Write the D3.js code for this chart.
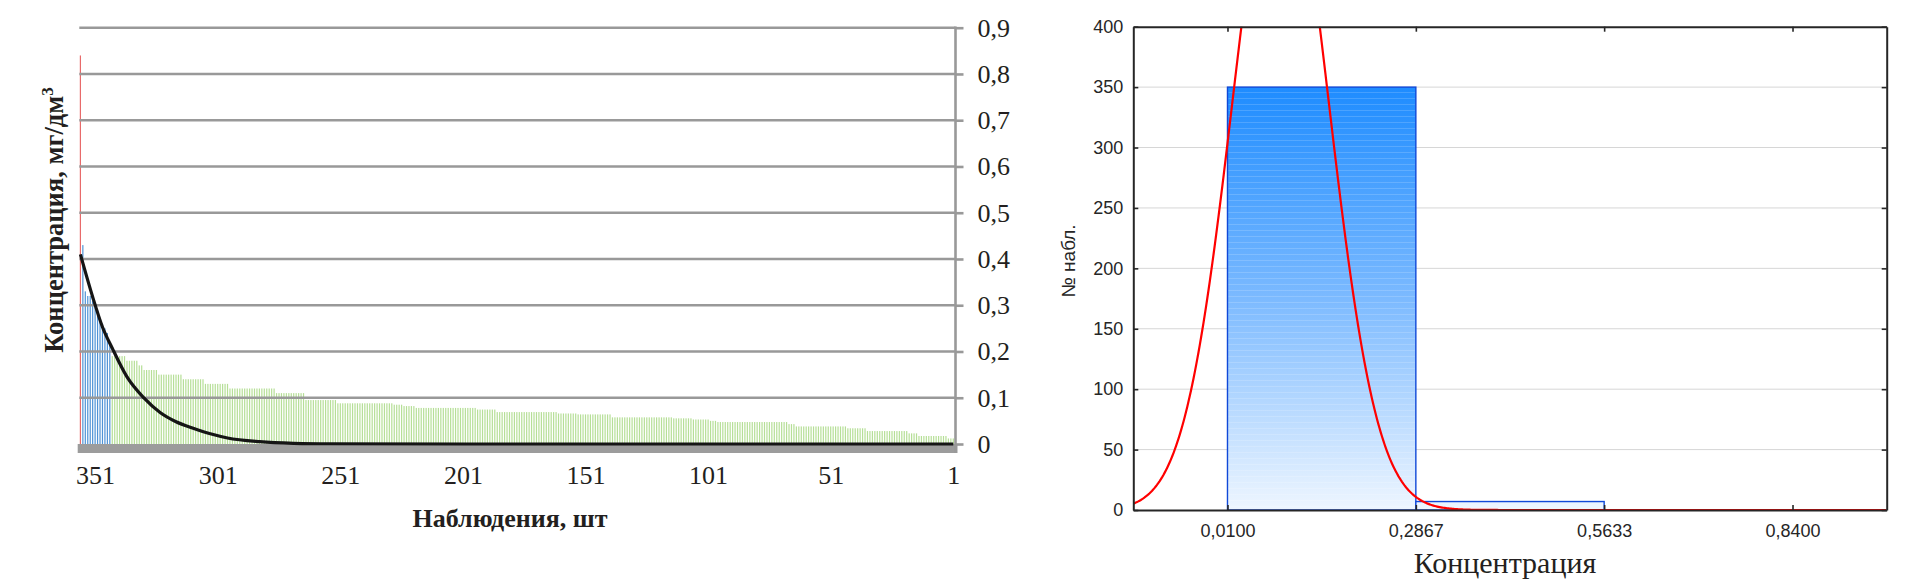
<!DOCTYPE html>
<html><head><meta charset="utf-8">
<script src="https://cdn.jsdelivr.net/npm/d3@7"></script>
<style>body{margin:0;background:#fff}</style></head>
<body><svg id="c" width="1911" height="585" xmlns="http://www.w3.org/2000/svg"></svg>
<script>
// ---------------- data: left chart (observations, sorted) ----------------
// individual highest observations (from obs N downwards)
const topValues = [0.84, 0.43, 0.33, 0.32, 0.32, 0.31, 0.30, 0.29, 0.27, 0.26, 0.25, 0.24, 0.22];
// plateaus of the remaining observations: value and number of observations
const runValues = [0.19, 0.18, 0.17, 0.16, 0.15, 0.14, 0.13, 0.12, 0.11, 0.095,
                   0.088, 0.085, 0.082, 0.078, 0.0745, 0.069, 0.066, 0.064, 0.0576, 0.0555,
                   0.053, 0.050, 0.0475, 0.043, 0.038, 0.034, 0.028, 0.023, 0.0173, 0.012];
const runCounts = [6, 5, 2, 6, 10, 9, 10, 19, 12, 13,
                   23, 4, 5, 25, 8, 25, 8, 14, 25, 8,
                   7, 3, 29, 3, 21, 8, 17, 4, 12, 3];
const groupSizes = [1, 12];            // red group, blue group; the rest are green
const xTickObs = [351, 301, 251, 201, 151, 101, 51, 1];
const yTicksLeft = [0, 0.1, 0.2, 0.3, 0.4, 0.5, 0.6, 0.7, 0.8, 0.9];
// black trend curve
const trendObs = [357, 352, 348, 344, 338, 331, 324.5, 318, 311, 304, 297, 284, 270, 255, 200, 1];
const trendVal = [0.41, 0.318, 0.253, 0.207, 0.145, 0.099, 0.068, 0.048, 0.034, 0.022, 0.013, 0.005, 0.0015, 0.0005, 0, 0];

// ---------------- data: right chart (histogram) ----------------
const binEdges = [0.0100, 0.2867, 0.5633, 0.8400];
const binCounts = [350, 7, 0];
const yTicksRight = [0, 50, 100, 150, 200, 250, 300, 350, 400];
const fitMean = 0.088, fitSd = 0.0708, fitN = 357;

// ---------------- build observation list ----------------
let values = topValues.slice();
runValues.forEach((v, i) => { for (let k = 0; k < runCounts[i]; k++) values.push(v); });
const N = values.length;
const obs = values.map((v, k) => ({ obs: N - k, v, idx: k }));

const svg = d3.select("#c");
const serif = "'Liberation Serif','Times New Roman',serif";
const sans = "'Liberation Sans',Arial,sans-serif";

// ======================= LEFT CHART =======================
const xL = d3.scaleLinear().domain([N, 1]).range([80.4, 953.3]);
const yL = d3.scaleLinear().domain([0, 0.9]).range([444, 27.7]);
const gL = svg.append("g");
const gridColor = "#999999";

// floor bar
gL.append("rect").attr("x", 77.7).attr("y", yL(0)).attr("width", 957.5 - 77.7).attr("height", 9).attr("fill", "#9c9c9c");

// bars
function barColor(k) {
  if (k < groupSizes[0]) return "#e86a6a";
  if (k < groupSizes[0] + groupSizes[1]) return "#4f93d6";
  return "#b6df97";
}
gL.selectAll("rect.bar").data(obs).join("rect").attr("class", "bar")
  .attr("x", d => xL(d.obs) - 0.6).attr("width", 1.2)
  .attr("y", d => yL(d.v)).attr("height", d => yL(0) - yL(d.v))
  .attr("fill", d => barColor(d.idx));

// gridlines
gL.selectAll("line.grid").data(yTicksLeft.filter(t => t > 0)).join("line").attr("class", "grid")
  .attr("x1", 79.3).attr("x2", 955.5).attr("y1", d => yL(d)).attr("y2", d => yL(d))
  .attr("stroke", gridColor).attr("stroke-width", 2.6);

// right axis
const axR = gL.append("g").attr("transform", "translate(955.5,0)")
  .call(d3.axisRight(yL).tickValues(yTicksLeft).tickSize(8).tickPadding(14)
    .tickFormat(d => d === 0 ? "0" : d3.format(".1f")(d).replace(".", ",")));
axR.select(".domain").remove();
axR.selectAll(".tick line").attr("stroke", gridColor).attr("stroke-width", 2.6);
axR.selectAll("text").attr("font-family", serif).attr("font-size", 26).attr("fill", "#231f20");
gL.append("line").attr("x1", 955.5).attr("x2", 955.5).attr("y1", yL(0.9) - 1.3).attr("y2", 453)
  .attr("stroke", gridColor).attr("stroke-width", 2.6);

// bottom labels
const axB = gL.append("g").attr("transform", `translate(0,${yL(0)})`)
  .call(d3.axisBottom(xL).tickValues(xTickObs).tickSize(0).tickPadding(22).tickFormat(d3.format("d")));
axB.select(".domain").remove();
axB.selectAll("text").attr("font-family", serif).attr("font-size", 26).attr("fill", "#231f20");

// trend curve
const trend = trendObs.map((o, i) => [o, trendVal[i]]);
gL.append("path").datum(trend)
  .attr("d", d3.line().x(d => xL(d[0])).y(d => yL(d[1])).curve(d3.curveMonotoneX))
  .attr("fill", "none").attr("stroke", "#151515").attr("stroke-width", 3.2);

// titles
const yt = gL.append("text").attr("transform", "translate(63,220) rotate(-90)")
  .attr("text-anchor", "middle").attr("font-family", serif).attr("font-size", 26.5)
  .attr("font-weight", "bold").attr("fill", "#231f20");
yt.append("tspan").text("Концентрация, мг/дм");
yt.append("tspan").attr("font-size", 17).attr("dy", -10).text("3");
gL.append("text").attr("x", 510).attr("y", 527).attr("text-anchor", "middle")
  .attr("font-family", serif).attr("font-size", 26).attr("font-weight", "bold").attr("fill", "#231f20")
  .text("Наблюдения, шт");

// ======================= RIGHT CHART =======================
const xR = d3.scaleLinear().domain([-0.12835, 0.97835]).range([1133.3, 1886.7]);
const yR = d3.scaleLinear().domain([0, 400]).range([510, 26.7]);
const gR = svg.append("g");
const defs = svg.append("defs");
const grad = defs.append("linearGradient").attr("id", "hg").attr("gradientUnits", "userSpaceOnUse")
  .attr("x1", 0).attr("x2", 0).attr("y1", yR(350)).attr("y2", yR(0));
grad.append("stop").attr("offset", 0).attr("stop-color", "#1e8cff");
grad.append("stop").attr("offset", 0.5).attr("stop-color", "#7cbaff");
grad.append("stop").attr("offset", 1).attr("stop-color", "#eef6ff");
const pat = defs.append("pattern").attr("id", "stripes").attr("patternUnits", "userSpaceOnUse")
  .attr("width", 10).attr("height", 6);
pat.append("rect").attr("y", 2).attr("width", 10).attr("height", 1).attr("fill", "#ffffff").attr("opacity", 0.16);
defs.append("clipPath").attr("id", "plotR").append("rect")
  .attr("x", xR.range()[0]).attr("y", yR(400)).attr("width", xR.range()[1] - xR.range()[0]).attr("height", yR(0) - yR(400));

// gridlines
gR.selectAll("line.g").data(yTicksRight.filter(t => t > 0 && t < 400)).join("line")
  .attr("x1", xR.range()[0]).attr("x2", xR.range()[1]).attr("y1", d => yR(d)).attr("y2", d => yR(d))
  .attr("stroke", "#d6d6d6").attr("stroke-width", 1);

// bars
const bins = binCounts.map((c, i) => ({ x0: binEdges[i], x1: binEdges[i + 1], c }));
gR.selectAll("rect.h").data(bins.filter(b => b.c > 0)).join("rect")
  .attr("x", d => xR(d.x0)).attr("width", d => xR(d.x1) - xR(d.x0))
  .attr("y", d => yR(d.c)).attr("height", d => yR(0) - yR(d.c))
  .attr("fill", "url(#hg)").attr("stroke", "#1048d8").attr("stroke-width", 1.4);
gR.selectAll("rect.hs").data(bins.filter(b => b.c > 20)).join("rect")
  .attr("x", d => xR(d.x0) + 1).attr("width", d => xR(d.x1) - xR(d.x0) - 2)
  .attr("y", d => yR(d.c) + 2).attr("height", d => Math.max(0, yR(0) - yR(d.c) - 3))
  .attr("fill", "url(#stripes)");

// normal fit curve
const binW = binEdges[1] - binEdges[0];
const fitPts = d3.range(0, 601).map(i => {
  const x = xR.domain()[0] + (xR.domain()[1] - xR.domain()[0]) * i / 600;
  const y = fitN * binW * Math.exp(-((x - fitMean) ** 2) / (2 * fitSd * fitSd)) / (fitSd * Math.sqrt(2 * Math.PI));
  return [x, Math.min(y, 460)];
});
gR.append("path").datum(fitPts).attr("clip-path", "url(#plotR)")
  .attr("d", d3.line().x(d => xR(d[0])).y(d => yR(d[1])))
  .attr("fill", "none").attr("stroke", "#ff0000").attr("stroke-width", 2.2);

// axes
const fmt4 = d => d3.format(".4f")(d).replace(".", ",");
const ax1 = gR.append("g").attr("transform", `translate(0,${yR(0)})`)
  .call(d3.axisBottom(xR).tickValues(binEdges).tickSize(-5).tickSizeOuter(0).tickPadding(14).tickFormat(fmt4));
const ax2 = gR.append("g").attr("transform", `translate(0,${yR(400)})`)
  .call(d3.axisTop(xR).tickValues(binEdges).tickSize(-5).tickSizeOuter(0).tickFormat(""));
const ax3 = gR.append("g").attr("transform", `translate(${xR.range()[0]},0)`)
  .call(d3.axisLeft(yR).tickValues(yTicksRight).tickSize(-5).tickSizeOuter(0).tickPadding(10).tickFormat(d3.format("d")));
const ax4 = gR.append("g").attr("transform", `translate(${xR.range()[1]},0)`)
  .call(d3.axisRight(yR).tickValues(yTicksRight).tickSize(-5).tickSizeOuter(0).tickFormat(""));
[ax1, ax2, ax3, ax4].forEach(a => {
  a.select(".domain").attr("stroke", "#262626").attr("stroke-width", 2);
  a.selectAll(".tick line").attr("stroke", "#262626").attr("stroke-width", 1.6);
  a.selectAll("text").attr("font-family", sans).attr("font-size", 18).attr("fill", "#262626");
});

gR.append("text").attr("transform", "translate(1075,261) rotate(-90)").attr("text-anchor", "middle")
  .attr("font-family", sans).attr("font-size", 19).attr("fill", "#262626").text("№ набл.");
gR.append("text").attr("x", 1505).attr("y", 573).attr("text-anchor", "middle")
  .attr("font-family", serif).attr("font-size", 30).attr("fill", "#231f20").text("Концентрация");
</script></body></html>
